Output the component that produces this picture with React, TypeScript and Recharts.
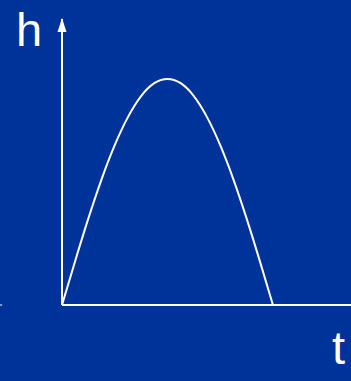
import React from 'react';
import { ComposedChart, Line, XAxis, YAxis, ReferenceDot, ReferenceLine } from 'recharts';

const tValues = [0, 0.5, 1, 1.5, 2, 2.5, 3, 3.5, 4, 4.5, 5, 5.5, 6, 6.5, 7, 7.5, 8];
const hValues = [0, 1.95, 3.83, 5.56, 7.07, 8.31, 9.24, 9.81, 10, 9.81, 9.24, 8.31, 7.07, 5.56, 3.83, 1.95, 0];
const tDomain: [number, number] = [0, 10.96];
const hDomain: [number, number] = [0, 12.65];
const axisLabels = { y: 'h', x: 't' };
const leftMark: [number, number] = [-2.35, -2.27];

const data = tValues.map((t, i) => ({ t, h: hValues[i] }));

const BG = '#003399';
const FONT = 'Liberation Sans, Arial, sans-serif';

const ArrowHead = (props: any) => {
  const { cx, cy } = props;
  if (cx == null || cy == null) return null;
  return (
    <polygon
      points={`${cx},${cy - 1} ${cx - 4.5},${cy + 13} ${cx + 4.5},${cy + 13}`}
      fill="#ffffff"
    />
  );
};

const HLabel = (props: any) => {
  const { viewBox } = props;
  if (!viewBox) return null;
  return (
    <text x={viewBox.x - 46} y={viewBox.y + 27} fill="#fff" fontSize={47} fontFamily={FONT}>
      {axisLabels.y}
    </text>
  );
};

const TLabel = (props: any) => {
  const { viewBox } = props;
  if (!viewBox) return null;
  return (
    <text x={viewBox.x - 19} y={viewBox.y + 59} fill="#fff" fontSize={47} fontFamily={FONT}>
      {axisLabels.x}
    </text>
  );
};

export default function App() {
  return (
    <div style={{ position: 'fixed', left: 0, top: 0, width: 351, height: 381, background: BG, overflow: 'hidden' }}>
      <ComposedChart width={351} height={381} data={data} margin={{ top: 19, right: 0, bottom: 76, left: 62 }}>
        <XAxis dataKey="t" type="number" domain={tDomain} allowDataOverflow hide />
        <YAxis dataKey="h" type="number" domain={hDomain} allowDataOverflow hide />
        <ReferenceLine x={0} stroke="#fff" strokeWidth={2} />
        <ReferenceLine y={0} stroke="#fff" strokeWidth={2} />
        <ReferenceLine
          segment={[{ x: leftMark[0], y: 0 }, { x: leftMark[1], y: 0 }]}
          stroke="#fff"
          strokeWidth={1}
          ifOverflow="visible"
        />
        <Line
          dataKey="h"
          type="natural"
          stroke="#fff"
          strokeWidth={2}
          dot={false}
          isAnimationActive={false}
        />
        <ReferenceDot x={0} y={hDomain[1]} r={0} shape={ArrowHead} label={<HLabel />} ifOverflow="visible" />
        <ReferenceDot x={tDomain[1]} y={0} r={0} shape={() => null} label={<TLabel />} ifOverflow="visible" />
      </ComposedChart>
    </div>
  );
}
